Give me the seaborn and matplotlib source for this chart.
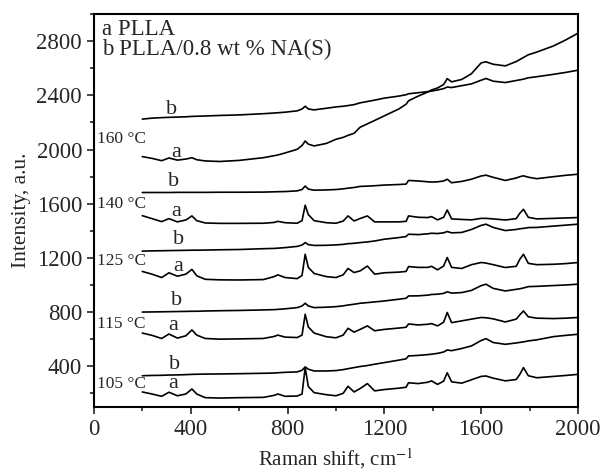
import numpy as np
import pandas as pd
import matplotlib
matplotlib.use("Agg")
import matplotlib.pyplot as plt
import seaborn as sns
from matplotlib.ticker import MultipleLocator

# Raman shift grid (cm^-1) shared by all spectra
shift = [200, 240, 280, 310, 345, 380, 405, 425, 460, 520, 600, 700, 745, 760, 790,
         840, 860, 873, 886, 910, 960, 1000, 1030, 1050, 1075, 1100, 1130, 1160, 1200,
         1260, 1290, 1300, 1340, 1380, 1395, 1420, 1445, 1460, 1478, 1520, 1560, 1600,
         1620, 1650, 1700, 1745, 1760, 1775, 1795, 1830, 1900, 1950, 2000]

# a = PLLA, b = PLLA/0.8 wt % NA(S)
a_105 = [210, 195, 178, 208, 182, 195, 232, 195, 168, 165, 168, 170, 185, 195, 178,
         180, 195, 390, 250, 205, 190, 182, 200, 252, 210, 235, 272, 218, 228,
         238, 245, 278, 272, 282, 292, 266, 290, 352, 285, 275, 300, 325,
         328, 312, 292, 302, 340, 390, 330, 315, 325, 332, 340]
b_105 = [330, 332, 333, 335, 336, 338, 340, 341, 342, 343, 345, 348, 350, 352, 355,
         358, 370, 395, 378, 365, 365, 368, 375, 382, 390, 398, 405, 415, 427,
         445, 455, 476, 480, 486, 489, 495, 505, 520, 515, 531, 550, 590,
         604, 575, 562, 572, 576, 580, 587, 595, 619, 628, 636]
a_115 = [645, 628, 605, 638, 608, 625, 668, 630, 605, 600, 602, 605, 620, 630, 615,
         612, 630, 784, 690, 645, 618, 610, 630, 680, 652, 672, 698, 662, 672,
         682, 688, 712, 705, 710, 715, 698, 725, 797, 722, 735, 748, 760,
         758, 750, 727, 748, 780, 808, 765, 755, 752, 755, 760]
b_115 = [800, 801, 802, 803, 804, 805, 806, 806, 808, 810, 812, 816, 818, 820, 824,
         833, 845, 865, 845, 833, 836, 840, 846, 852, 858, 865, 870, 875, 882,
         895, 902, 919, 920, 925, 930, 932, 938, 950, 940, 944, 960, 995,
         1006, 975, 956, 968, 972, 978, 988, 990, 996, 1000, 1006]
a_125 = [1100, 1080, 1055, 1090, 1065, 1080, 1115, 1068, 1042, 1038, 1037, 1040, 1062, 1075, 1055,
         1047, 1070, 1227, 1130, 1085, 1062, 1055, 1075, 1122, 1092, 1104, 1140, 1080, 1090,
         1095, 1100, 1136, 1130, 1130, 1138, 1112, 1140, 1203, 1130, 1122, 1150, 1166,
         1162, 1150, 1129, 1138, 1190, 1227, 1160, 1150, 1153, 1158, 1166]
b_125 = [1250, 1252, 1253, 1254, 1255, 1256, 1257, 1257, 1258, 1260, 1262, 1268, 1270, 1272, 1276,
         1285, 1295, 1313, 1298, 1292, 1293, 1296, 1300, 1305, 1308, 1313, 1318, 1325, 1338,
         1350, 1358, 1375, 1372, 1378, 1382, 1380, 1385, 1395, 1385, 1388, 1410, 1440,
         1449, 1425, 1402, 1410, 1415, 1418, 1424, 1425, 1435, 1442, 1449]
a_140 = [1512, 1490, 1468, 1490, 1466, 1480, 1510, 1475, 1458, 1455, 1455, 1456, 1462, 1470, 1460,
         1456, 1475, 1589, 1520, 1475, 1460, 1456, 1472, 1510, 1473, 1491, 1510, 1466, 1466,
         1466, 1470, 1510, 1500, 1498, 1505, 1481, 1500, 1554, 1488, 1484, 1481, 1492,
         1492, 1488, 1480, 1490, 1530, 1559, 1500, 1488, 1492, 1495, 1498]
b_140 = [1683, 1683, 1683, 1683, 1684, 1684, 1684, 1684, 1684, 1685, 1685, 1686, 1688, 1689, 1690,
         1695, 1705, 1731, 1708, 1700, 1702, 1705, 1710, 1715, 1720, 1728, 1730, 1733, 1738,
         1742, 1745, 1772, 1768, 1762, 1760, 1762, 1768, 1781, 1755, 1765, 1781, 1805,
         1811, 1795, 1772, 1790, 1800, 1806, 1796, 1785, 1800, 1810, 1818]
a_160 = [1948, 1935, 1918, 1938, 1922, 1930, 1940, 1925, 1916, 1912, 1920, 1940, 1955, 1960, 1975,
         2002, 2030, 2063, 2040, 2027, 2045, 2076, 2090, 2105, 2120, 2165, 2190, 2215, 2249,
         2300, 2335, 2360, 2395, 2425, 2440, 2455, 2480, 2524, 2500, 2518, 2560, 2640,
         2648, 2630, 2618, 2650, 2665, 2680, 2700, 2720, 2766, 2810, 2859]
b_160 = [2225, 2232, 2236, 2238, 2240, 2242, 2245, 2246, 2248, 2252, 2256, 2265, 2270, 2272, 2276,
         2286, 2300, 2320, 2300, 2293, 2305, 2315, 2320, 2325, 2332, 2345, 2355, 2365, 2380,
         2395, 2405, 2412, 2420, 2428, 2432, 2440, 2450, 2462, 2458, 2472, 2485, 2512,
         2525, 2505, 2495, 2510, 2515, 2520, 2530, 2538, 2556, 2570, 2586]

temps = ["105 °C", "115 °C", "125 °C", "140 °C", "160 °C"]
temp_y = [267, 710, 1178, 1596, 2076]
a_label_pos = [(327, 274), (327, 703), (348, 1138), (338, 1544), (339, 1980)]
b_label_pos = [(335, 415), (343, 882), (348, 1338), (327, 1766), (322, 2298)]

sns.set_theme(style="ticks")
plt.rcParams["font.family"] = ["Liberation Serif", "DejaVu Serif"]
plt.rcParams["mathtext.fontset"] = "stix"

fig = plt.figure(figsize=(6.02, 4.72), dpi=100)
ax = fig.add_axes([0.156, 0.138, 0.804, 0.832])

for ys in [a_105, b_105, a_115, b_115, a_125, b_125, a_140, b_140, a_160, b_160]:
    sns.lineplot(x=shift, y=ys, color="black", lw=1.2, ax=ax)

for t, y in zip(temps, temp_y):
    ax.text(12, y, t, fontsize=12.5, va="center", ha="left")
for (x, y) in a_label_pos:
    ax.text(x, y, "a", fontsize=16, va="center", ha="center")
for (x, y) in b_label_pos:
    ax.text(x, y, "b", fontsize=16, va="center", ha="center")

ax.text(35, 2885, "a PLLA", fontsize=16.5, va="center", ha="left")
ax.text(35, 2740, "b PLLA/0.8 wt % NA(S)", fontsize=16.5, va="center", ha="left")

ax.set_xlim(0, 2000)
ax.set_ylim(100, 3000)
ax.xaxis.set_major_locator(MultipleLocator(400))
ax.xaxis.set_minor_locator(MultipleLocator(200))
ax.set_yticks([400, 800, 1200, 1600, 2000, 2400, 2800])
ax.yaxis.set_minor_locator(MultipleLocator(200))
ax.tick_params(which="major", direction="out", length=5, width=1.2, labelsize=16.5)
ax.tick_params(which="minor", direction="out", length=3, width=1.2)
for s in ax.spines.values():
    s.set_linewidth(1.5)
    s.set_color("black")

ax.set_xlabel("Raman shift, cm$^{-1}$", fontsize=15, labelpad=5)
ax.set_ylabel("Intensity, a.u.", fontsize=15.5, labelpad=4)

fig.savefig("out.png", dpi=100)
plt.close(fig)
